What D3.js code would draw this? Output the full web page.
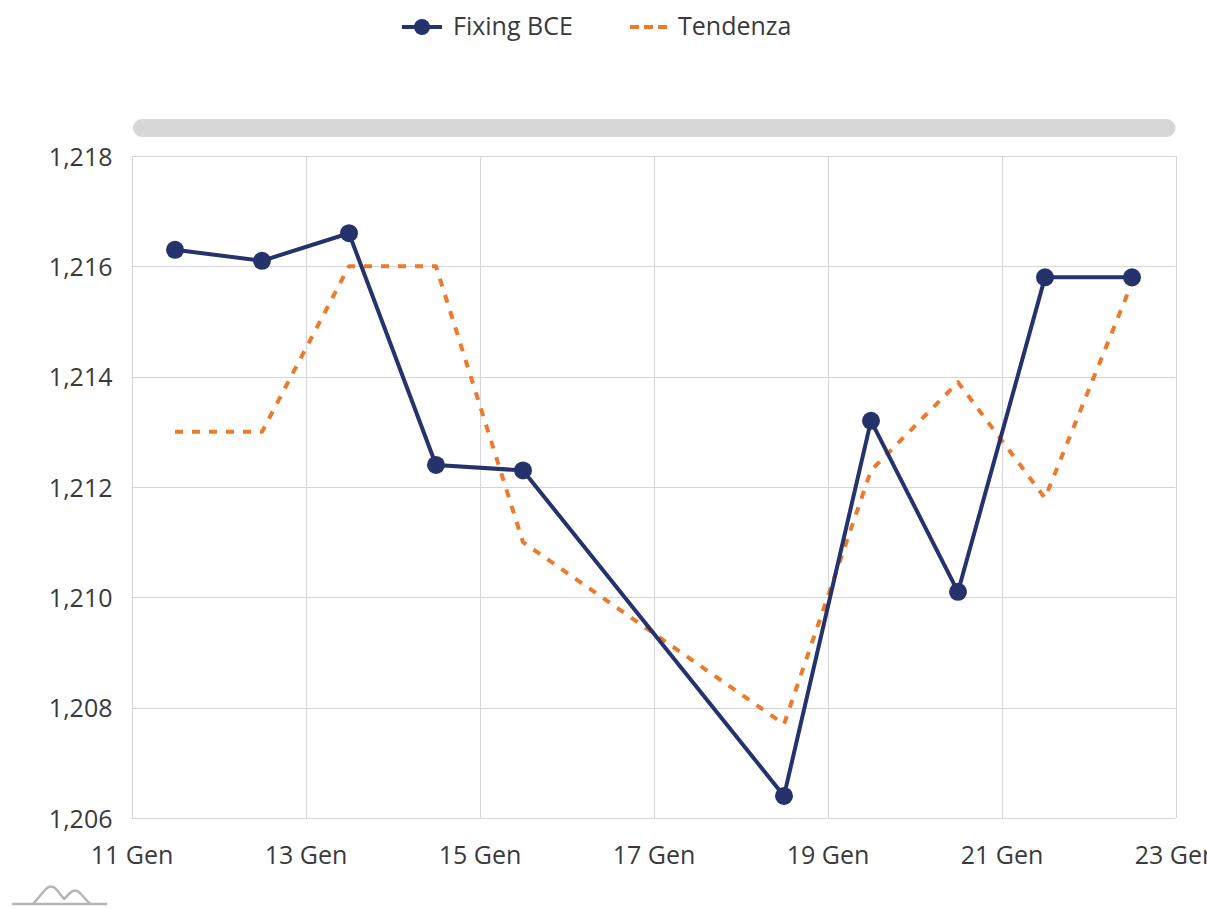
<!DOCTYPE html>
<html>
<head>
<meta charset="utf-8">
<script src="https://cdn.jsdelivr.net/npm/d3@7"></script>
<style>
  html, body { margin: 0; padding: 0; background: #ffffff; }
  svg { display: block; font-family: "Open Sans", "Noto Sans", sans-serif; }
</style>
</head>
<body>
<svg id="chart" width="1207" height="909"></svg>
<script>
// ---- data ----
const dates = ["2021-01-11T12:00", "2021-01-12T12:00", "2021-01-13T12:00", "2021-01-14T12:00", "2021-01-15T12:00",
               "2021-01-18T12:00", "2021-01-19T12:00", "2021-01-20T12:00", "2021-01-21T12:00", "2021-01-22T12:00"];
const fixingBCE = [1.2163, 1.2161, 1.2166, 1.2124, 1.2123, 1.2064, 1.2132, 1.2101, 1.2158, 1.2158];
const tendenza  = [1.2130, 1.2130, 1.2160, 1.2160, 1.2110, 1.2077, 1.2123, 1.2139, 1.2118, 1.2157];
const seriesNames = ["Fixing BCE", "Tendenza"];
const xDomain = ["2021-01-11T00:00", "2021-01-23T00:00"];
const xTickDates = ["2021-01-11T00:00", "2021-01-13T00:00", "2021-01-15T00:00", "2021-01-17T00:00",
                    "2021-01-19T00:00", "2021-01-21T00:00", "2021-01-23T00:00"];
const yDomain = [1.206, 1.218];
const yTickValues = [1.206, 1.208, 1.210, 1.212, 1.214, 1.216, 1.218];
const monthsShort = ["Gen", "Feb", "Mar", "Apr", "Mag", "Giu", "Lug", "Ago", "Set", "Ott", "Nov", "Dic"];

// ---- setup ----
const parse = d3.timeParse("%Y-%m-%dT%H:%M");
const itTime = d3.timeFormatLocale({
  dateTime: "%A %e %B %Y, %X", date: "%d/%m/%Y", time: "%H:%M:%S",
  periods: ["AM", "PM"],
  days: ["Domenica","Lunedì","Martedì","Mercoledì","Giovedì","Venerdì","Sabato"],
  shortDays: ["Dom","Lun","Mar","Mer","Gio","Ven","Sab"],
  months: ["Gennaio","Febbraio","Marzo","Aprile","Maggio","Giugno","Luglio","Agosto","Settembre","Ottobre","Novembre","Dicembre"],
  shortMonths: monthsShort
});
const itNum = d3.formatLocale({ decimal: ",", thousands: ".", grouping: [3], currency: ["€", ""] });
const fmtX = itTime.format("%-d %b");
const fmtY = itNum.format(".3f");

const colBlue = "#25326c";
const colOrange = "#ec7a2c";
const textCol = "#3a3a3a";
const gridCol = "#d6d6d6";

const plot = { left: 131.5, right: 1175.5, top: 156, bottom: 818 };

const x = d3.scaleTime().domain(xDomain.map(parse)).range([plot.left, plot.right]);
const y = d3.scaleLinear().domain(yDomain).range([plot.bottom, plot.top]);

const svg = d3.select("#chart");

// ---- gridlines ----
const grid = svg.append("g");
grid.selectAll("line.h").data(yTickValues).join("line")
  .attr("x1", plot.left).attr("x2", plot.right)
  .attr("y1", d => Math.round(y(d)) + 0.5).attr("y2", d => Math.round(y(d)) + 0.5)
  .attr("stroke", gridCol).attr("stroke-width", 1);
grid.selectAll("line.v").data(xTickDates.map(parse)).join("line")
  .attr("x1", d => Math.round(x(d)) + 0.5).attr("x2", d => Math.round(x(d)) + 0.5)
  .attr("y1", plot.top).attr("y2", plot.bottom)
  .attr("stroke", gridCol).attr("stroke-width", 1);

// ---- axes ----
const yAxis = d3.axisLeft(y).tickValues(yTickValues).tickFormat(fmtY).tickSize(0).tickPadding(19);
const gy = svg.append("g").attr("transform", `translate(${plot.left},0)`).call(yAxis);
gy.select(".domain").remove();
gy.selectAll("text").attr("fill", textCol).style("font-size", "25px")
  .style("font-family", '"Open Sans", sans-serif').attr("dy", "0.36em");

const xAxis = d3.axisBottom(x).tickValues(xTickDates.map(parse)).tickFormat(fmtX).tickSize(0).tickPadding(28);
const gx = svg.append("g").attr("transform", `translate(0,${plot.bottom})`).call(xAxis);
gx.select(".domain").remove();
gx.selectAll("text").attr("fill", textCol).style("font-size", "25px")
  .style("font-family", '"Open Sans", sans-serif');

// ---- scrollbar ----
svg.append("rect")
  .attr("x", 133).attr("y", 119).attr("width", plot.right - 133).attr("height", 18)
  .attr("rx", 9).attr("ry", 9).attr("fill", "#d7d7d7");

// ---- series ----
const pts = (vals) => dates.map((d, i) => ({ date: parse(d), v: vals[i] }));
const line = d3.line().x(d => x(d.date)).y(d => y(d.v));

svg.append("path").datum(pts(tendenza))
  .attr("d", line).attr("fill", "none")
  .attr("stroke", colOrange).attr("stroke-width", 4)
  .attr("stroke-dasharray", "8,9").attr("stroke-linejoin", "round");

svg.append("path").datum(pts(fixingBCE))
  .attr("d", line).attr("fill", "none")
  .attr("stroke", colBlue).attr("stroke-width", 4).attr("stroke-linejoin", "round");

svg.append("g").selectAll("circle").data(pts(fixingBCE)).join("circle")
  .attr("cx", d => x(d.date)).attr("cy", d => y(d.v)).attr("r", 9)
  .attr("fill", colBlue);

// ---- legend ----
const lg = svg.append("g");
lg.append("line").attr("x1", 402).attr("x2", 442).attr("y1", 27).attr("y2", 27)
  .attr("stroke", colBlue).attr("stroke-width", 4);
lg.append("circle").attr("cx", 422).attr("cy", 27).attr("r", 8).attr("fill", colBlue);
lg.append("text").attr("x", 453).attr("y", 35).text(seriesNames[0])
  .attr("fill", textCol).style("font-size", "25px");
lg.append("line").attr("x1", 630).attr("x2", 667).attr("y1", 27).attr("y2", 27)
  .attr("stroke", colOrange).attr("stroke-width", 4).attr("stroke-dasharray", "9,5");
lg.append("text").attr("x", 678).attr("y", 35).text(seriesNames[1])
  .attr("fill", textCol).style("font-size", "25px");

// ---- logo ----
const logo = svg.append("g").attr("fill", "none").attr("stroke", "#b5b5b5").attr("stroke-width", 2.5)
  .attr("stroke-linejoin", "round");
logo.append("path").attr("d", "M12,904 L107,904");
logo.append("path").attr("d", "M33,904 L45,890 Q51,883 57,890 L64,899 L70,893 Q75,888 80,893 L90,904");
</script>
</body>
</html>
